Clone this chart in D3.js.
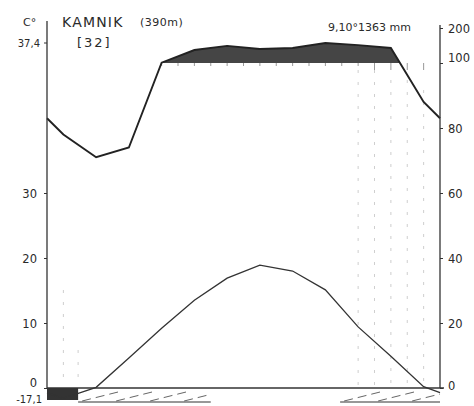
<!DOCTYPE html>
<html>
<head>
<meta charset="utf-8">
<script src="https://cdn.jsdelivr.net/npm/d3@7/dist/d3.min.js"></script>
<style>
  body { margin: 0; background: #fff; }
  text { font-family: "DejaVu Sans", sans-serif; fill: #2a2a2a; }
</style>
</head>
<body>
<script>
// climate diagram, Kamnik (Walter-Lieth style)
var months = ["Jan","Feb","Mar","Apr","May","Jun","Jul","Aug","Sep","Oct","Nov","Dec"];
var temp = [-1.6, 0.1, 4.6, 9.2, 13.5, 16.9, 18.9, 18.0, 15.1, 9.4, 4.9, 0.2];
var precip = [78, 71, 74, 101, 137, 149, 140, 143, 157, 151, 143, 88];
var tempTicks = [0, 10, 20, 30];
var precipTicks = [0, 20, 40, 60, 80, 100, 200];
var station = "KAMNIK", altitude = "(390m)", years = "[32]";
var summary = "9,10°1363 mm";
var absMax = "37,4", absMin = "-17,1";
// frost bars (in months from Jan start)
var blackFrost = [[0, 0.95]];
var hatchFrost = [[0.95, 5.0], [8.95, 12]];

var W = 474, H = 406;
var svg = d3.select("body").append("svg")
  .attr("width", W).attr("height", H);

var x = d3.scaleLinear().domain([0, 12]).range([47, 440]);
var yT = d3.scaleLinear().domain([0, 30]).range([388, 193]);
var yP = d3.scaleLinear().domain([0, 100, 200]).range([388, 63, 28]);

// precipitation points with edge values
var edgeP = (precip[0] + precip[11]) / 2;
var pPts = [[0, edgeP]].concat(precip.map(function(d, i) { return [i + 0.5, d]; })).concat([[12, edgeP]]);
var edgeT = (temp[0] + temp[11]) / 2;
var tPts = [[0, edgeT]].concat(temp.map(function(d, i) { return [i + 0.5, d]; })).concat([[12, edgeT]]);

// faint dotted guide lines (scan remnants)
var guides = [
  [0.5, 290, 384], [0.95, 350, 384],
  [9.5, 70, 388], [10, 70, 388], [10.5, 80, 388], [11, 80, 388], [11.5, 90, 388]
];
svg.append("g").selectAll("line").data(guides).enter().append("line")
  .attr("x1", function(d) { return x(d[0]); }).attr("x2", function(d) { return x(d[0]); })
  .attr("y1", function(d) { return d[1]; }).attr("y2", function(d) { return d[2]; })
  .attr("stroke", "#bbb").attr("stroke-width", 1)
  .attr("stroke-dasharray", "3,9").attr("opacity", 0.7);

// humid area above 100 mm
svg.append("clipPath").attr("id", "above")
  .append("rect").attr("x", 0).attr("y", 0).attr("width", W).attr("height", yP(100));
var area = d3.area()
  .x(function(d) { return x(d[0]); })
  .y0(yP(100))
  .y1(function(d) { return yP(d[1]); });
svg.append("path").datum(pPts)
  .attr("d", area)
  .attr("clip-path", "url(#above)")
  .attr("fill", "#454545");

// half-month ticks under 100 mm line
var halfTicks = d3.range(7, 24).map(function(k) { return k / 2; });
svg.append("g").selectAll("line").data(halfTicks).enter().append("line")
  .attr("x1", function(d) { return x(d); }).attr("x2", function(d) { return x(d); })
  .attr("y1", yP(100)).attr("y2", function(d) { return yP(100) + (d >= 10 ? 7 : 3); })
  .attr("stroke", "#999").attr("stroke-width", 1);

// frost bars
var barTop = yT(0), barBot = yT(0) + 14;
svg.append("g").selectAll("rect").data(blackFrost).enter().append("rect")
  .attr("x", function(d) { return x(d[0]); })
  .attr("width", function(d) { return x(d[1]) - x(d[0]); })
  .attr("y", barTop).attr("height", 12)
  .attr("fill", "#333");

var hatch = svg.append("g");
hatchFrost.forEach(function(b) {
  var x0 = x(b[0]), x1 = x(b[1]);
  hatch.append("line").attr("x1", x0).attr("x2", x1)
    .attr("y1", barBot).attr("y2", barBot)
    .attr("stroke", "#333").attr("stroke-width", 1.2);
  var step = 34;
  d3.range(x0 + 4, x1 - 10, step).forEach(function(s) {
    hatch.append("line")
      .attr("x1", s).attr("y1", barBot - 1)
      .attr("x2", Math.min(s + 40, x1)).attr("y2", barBot - 1 - (Math.min(s + 40, x1) - s) * 0.25)
      .attr("stroke", "#666").attr("stroke-width", 1)
      .attr("stroke-dasharray", "9,5");
  });
});

// zero line
svg.append("line").attr("x1", x(0)).attr("x2", x(12) + 4)
  .attr("y1", yT(0)).attr("y2", yT(0))
  .attr("stroke", "#333").attr("stroke-width", 1.3);

// temperature curve
var line = d3.line()
  .x(function(d) { return x(d[0]); });
svg.append("path").datum(tPts)
  .attr("d", line.y(function(d) { return yT(d[1]); }))
  .attr("fill", "none").attr("stroke", "#333").attr("stroke-width", 1.3);

// precipitation curve
svg.append("path").datum(pPts)
  .attr("d", d3.line().x(function(d) { return x(d[0]); }).y(function(d) { return yP(d[1]); }))
  .attr("fill", "none").attr("stroke", "#222").attr("stroke-width", 1.9);

// axes
svg.append("line").attr("x1", x(0)).attr("x2", x(0)).attr("y1", 21).attr("y2", yT(0))
  .attr("stroke", "#333").attr("stroke-width", 1.3);
svg.append("line").attr("x1", x(12)).attr("x2", x(12)).attr("y1", 25).attr("y2", yT(0))
  .attr("stroke", "#333").attr("stroke-width", 1.3);

var axL = svg.append("g").attr("transform", "translate(" + x(0) + ",0)")
  .call(d3.axisLeft(yT).tickValues(tempTicks).tickSize(3).tickPadding(7));
axL.select(".domain").remove();
axL.selectAll("text").style("font-size", "11.5px").attr("dy", "0.35em");
axL.selectAll("line").attr("stroke", "#333");
axL.selectAll(".tick").filter(function(d) { return d === 0; }).select("text").attr("dy", "-0.15em");

var axR = svg.append("g").attr("transform", "translate(" + x(12) + ",0)")
  .call(d3.axisRight(yP).tickValues(precipTicks).tickSize(3).tickPadding(5));
axR.select(".domain").remove();
axR.selectAll("text").style("font-size", "11.5px").attr("dy", "0.35em");
axR.selectAll("line").attr("stroke", "#333");
axR.selectAll(".tick").filter(function(d) { return d === 100; }).select("text").attr("dy", "-0.1em");
axR.selectAll(".tick").filter(function(d) { return d === 0; }).select("text").attr("dy", "0.1em");

// labels
svg.append("text").attr("x", 23).attr("y", 26).style("font-size", "11px").text("C°");
svg.append("line").attr("x1", x(0) - 3).attr("x2", x(0)).attr("y1", 43).attr("y2", 43).attr("stroke", "#333");
svg.append("text").attr("x", 40).attr("y", 47).attr("text-anchor", "end").style("font-size", "10px").text(absMax);
svg.append("text").attr("x", 42).attr("y", 403).attr("text-anchor", "end").style("font-size", "10px").text(absMin);

svg.append("text").attr("x", 62).attr("y", 27).style("font-size", "14px").style("letter-spacing", "1.2px").text(station);
svg.append("text").attr("x", 140).attr("y", 26).style("font-size", "11px").style("letter-spacing", "0.5px").text(altitude);
svg.append("text").attr("x", 77).attr("y", 47).style("font-size", "13px").style("letter-spacing", "2px").text(years);
svg.append("text").attr("x", 328).attr("y", 31).style("font-size", "11px").text(summary);
</script>
</body>
</html>
